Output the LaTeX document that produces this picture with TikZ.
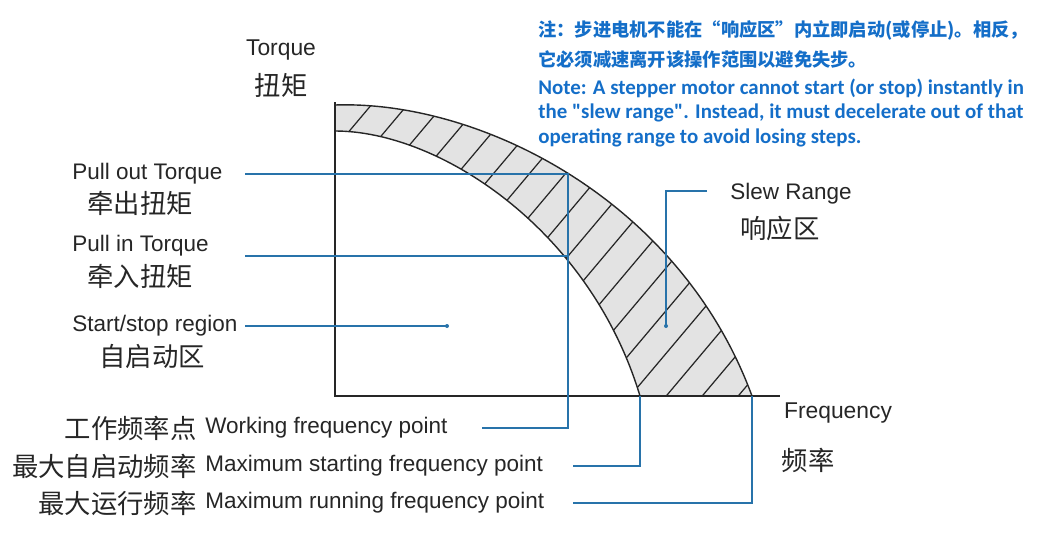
\documentclass[tikz,border=0pt]{standalone}
\usepackage{fontspec}
\setmainfont{Liberation Sans}
\newfontfamily\cjk{Noto Sans CJK SC}
\newfontfamily\notefont{Carlito}
\definecolor{lead}{RGB}{40,115,170}
\definecolor{notec}{RGB}{20,110,200}
\begin{document}
\begin{tikzpicture}[x=0.02cm,y=-0.02cm,
  lab/.style={inner sep=0pt,font=\fontsize{12.8}{14}\selectfont,text=black!85},
  zh/.style={inner sep=0pt,font=\cjk\fontsize{15}{17}\selectfont,text=black!85},
  note/.style={inner sep=0pt,anchor=west,font=\notefont\bfseries\fontsize{11.9}{13}\selectfont,text=notec},
  leader/.style={draw=lead,line width=0.8pt},
  axis/.style={draw=black!85,line width=1.1pt}]
\useasboundingbox (0,0) rectangle (1059,535);
% band
\path[fill=gray!22] (335,105) .. controls (480,100) and (680,200) .. (752,396) -- (640,396) .. controls (590,230) and (440,131) .. (335,131) -- cycle;
\begin{scope}
\clip (335,105) .. controls (480,100) and (680,200) .. (752,396) -- (640,396) .. controls (590,230) and (440,131) .. (335,131) -- cycle;
\foreach \i in {-8,...,22} {\draw[black!85,line width=0.7pt] (250+\i*36,420) -- ++(320,-380);}
\end{scope}
\draw[black!85,line width=0.8pt] (335,105) .. controls (480,100) and (680,200) .. (752,396);
\draw[black!85,line width=0.8pt] (640,396) .. controls (590,230) and (440,131) .. (335,131);
% axes
\coordinate (o) at (335,396);
\coordinate (ytop) at (335,102);
\coordinate (xend) at (780,396);
\draw[axis] (ytop) -- (o) -- (xend);
\node[lab,font=\fontsize{13}{15}\selectfont] (tq) at (281,50) {Torque};
\node[zh] (tqz) at (281,85) {扭矩};
\node[lab,font=\fontsize{13}{15}\selectfont] (fq) at (838,413) {Frequency};
\node[zh] (fqz) at (808,460) {频率};
% left labels
\node[lab,anchor=west] (po) at (72,174) {Pull out Torque};
\node[zh] (poz) at (140,203) {牵出扭矩};
\node[lab,anchor=west] (pi) at (72,246) {Pull in Torque};
\node[zh] (piz) at (140,276) {牵入扭矩};
\node[lab,anchor=west] (ss) at (72,326) {Start/stop region};
\node[zh] (ssz) at (152,356) {自启动区};
\node[lab,anchor=west] (sr) at (730,194) {Slew Range};
\node[zh] (srz) at (780,228) {响应区};
% bottom labels
\node[zh,anchor=east] (w1) at (197,428) {工作频率点};
\node[lab,anchor=west] (w2) at (205,428) {Working frequency point};
\node[zh,anchor=east] (s1) at (197,466) {最大自启动频率};
\node[lab,anchor=west] (s2) at (205,466) {Maximum starting frequency point};
\node[zh,anchor=east] (r1) at (197,503) {最大运行频率};
\node[lab,anchor=west] (r2) at (205,503) {Maximum running frequency point};
% leader coordinates
\coordinate (poA) at (245,174); \coordinate (poB) at (568,174);
\coordinate (piA) at (245,256); \coordinate (piB) at (568,256);
\coordinate (ssA) at (245,326); \coordinate (ssB) at (447,326);
\coordinate (wA) at (482,428); \coordinate (wB) at (568,428);
\coordinate (sA) at (573,466); \coordinate (sB) at (640,466); \coordinate (sC) at (640,396);
\coordinate (rA) at (573,503); \coordinate (rB) at (752,503); \coordinate (rC) at (752,396);
\coordinate (slA) at (707,191); \coordinate (slB) at (666,191); \coordinate (slC) at (666,326);
\draw[leader] (poA) -- (poB) -- (wB) -- (wA);
\draw[leader] (piA) -- (piB);
\draw[leader] (ssA) -- (ssB);
\fill[lead] (ssB) circle (2);
\draw[leader] (sA) -- (sB) -- (sC);
\draw[leader] (rA) -- (rB) -- (rC);
\draw[leader] (slA) -- (slB) -- (slC);
\fill[lead] (slC) circle (2);
% note
\node[note,font=\cjk\bfseries\fontsize{10.4}{12}\selectfont] (n1) at (538,30) {注：步进电机不能在“响应区”内立即启动(或停止)。相反，};
\node[note,font=\cjk\bfseries\fontsize{10.4}{12}\selectfont] (n2) at (538,60) {它必须减速离开该操作范围以避免失步。};
\node[note] (n3) at (538,88) {Note: A stepper motor cannot start (or stop) instantly in};
\node[note] (n4) at (538,113) {the "slew range". Instead, it must decelerate out of that};
\node[note] (n5) at (538,138) {operating range to avoid losing steps.};
\end{tikzpicture}
\end{document}
